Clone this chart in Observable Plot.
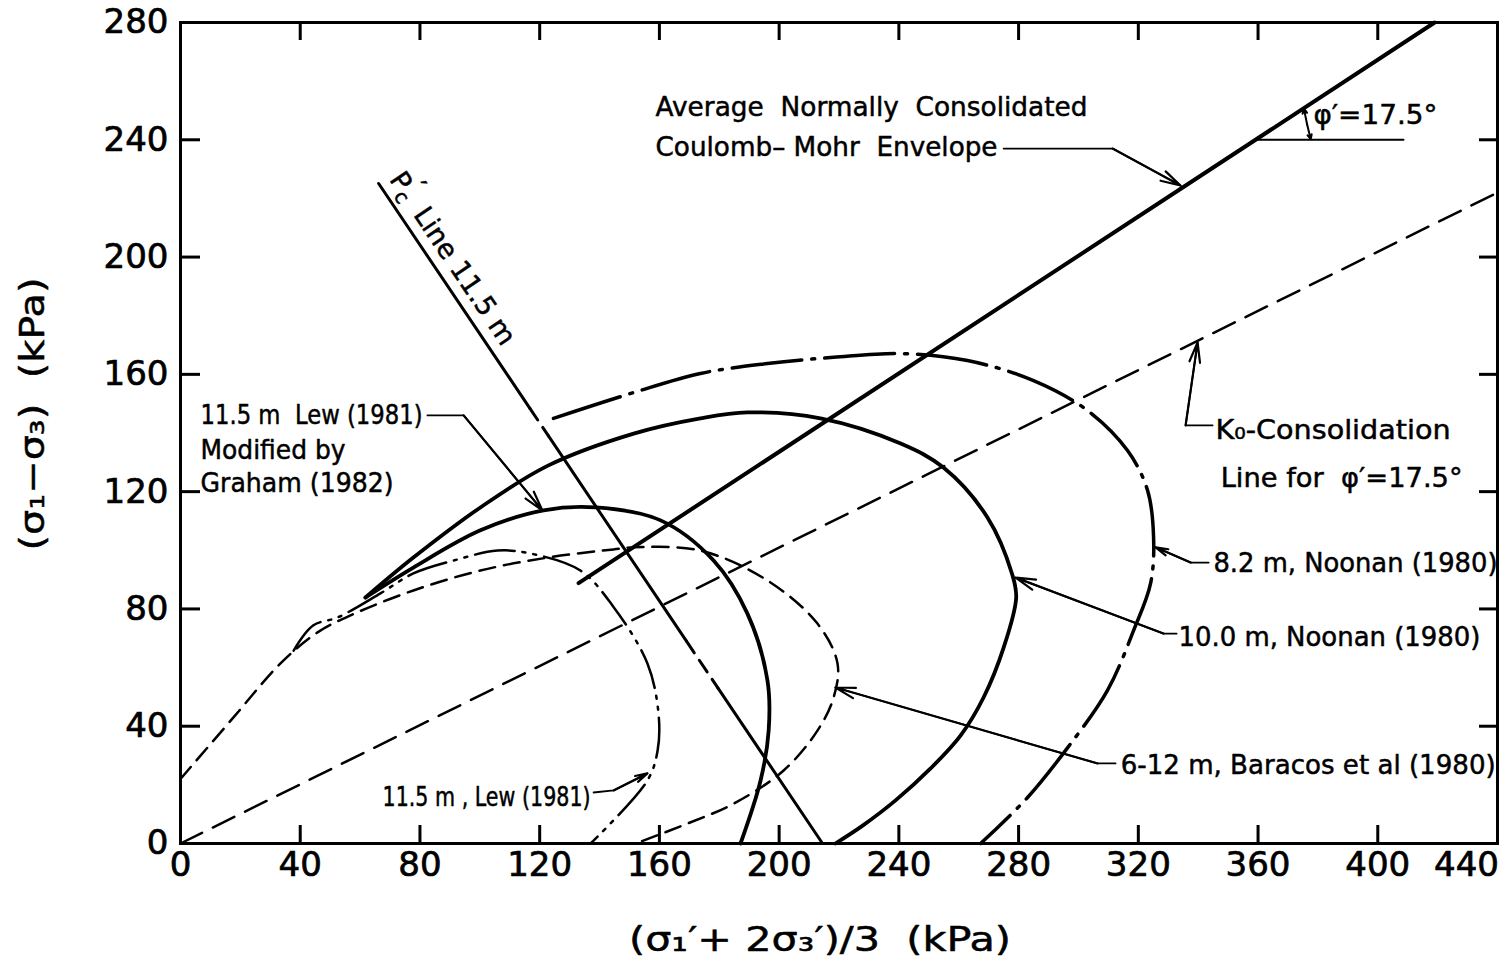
<!DOCTYPE html>
<html><head><meta charset="utf-8">
<script src="https://cdn.jsdelivr.net/npm/d3@7"></script>
<script src="https://cdn.jsdelivr.net/npm/@observablehq/plot@0.6"></script>
<style>
body{margin:0;background:#fff} svg{display:block}
g[aria-label="x-axis tick label"] text, g[aria-label="y-axis tick label"] text {stroke:#000; stroke-width:0.7px;}
</style>
</head><body><div id="chart"></div>
<script>
// ---------- data ----------
const xTicks = [0,40,80,120,160,200,240,280,320,360,400,440];
const yTicks = [0,40,80,120,160,200,240,280];

// Average normally consolidated Coulomb–Mohr envelope, phi' = 17.5°
const envelope = [{x:133,y:88.8},{x:419,y:280}];
// K0-consolidation line
const k0Line = [{x:0,y:0},{x:440,y:222}];
// p'c line 11.5 m (end points) and the y-ranges drawn dashed
const pcLineEnds = [{x:66.2,y:225.1},{x:214.5,y:0}];
const pcDashedRanges = [[148.4,139],[69,53]];

// 10.0 m, Noonan (1980) – thick solid
const noonan10 = [
  {x:61.8,y:83.9},{x:77.8,y:97.5},{x:100.2,y:114.6},{x:122.6,y:128.8},{x:151.4,y:139.8},
  {x:173.7,y:145.0},{x:189.4,y:147.0},{x:213.8,y:145.0},{x:240.6,y:136.4},{x:254.9,y:128.2},
  {x:269.6,y:111.2},{x:277.8,y:92.0},{x:279.2,y:84.0},{x:275.0,y:66.8},{x:268.3,y:49.8},
  {x:260.6,y:36.8},{x:250.6,y:25.6},{x:238.9,y:14.7},{x:227.9,y:6.1},{x:218.8,y:0}
];
// 11.5 m Lew (1981) modified by Graham (1982) – thick solid
const lewModified = [
  {x:61.8,y:83.9},{x:77.8,y:94.1},{x:100.2,y:106.8},{x:121.3,y:113.6},{x:138.7,y:114.6},
  {x:160.4,y:110.2},{x:178.1,y:96.5},{x:189.4,y:78.4},{x:196.1,y:55.6},{x:196.5,y:38.5},
  {x:193.8,y:21.5},{x:187.1,y:0}
];
// 11.5 m, Lew (1981) – dash-dot-dot
const lew = [
  {x:37.8,y:65.8},{x:44.4,y:74.4},{x:52.5,y:77.1},{x:66.8,y:85.3},{x:77.8,y:92.1},
  {x:91.2,y:96.5},{x:105.9,y:99.9},{x:116.9,y:98.9},{x:133.6,y:93.1},{x:144.3,y:81.2},
  {x:156.0,y:61.4},{x:159.7,y:44.3},{x:159.4,y:31.7},{x:156.0,y:21.5},{x:137.0,y:0}
];
// 6-12 m, Baracos et al (1980) – dashed
const baracos = [
  {x:0,y:22},{x:17.7,y:43.0},{x:33.4,y:61.4},{x:45.8,y:72.0},{x:56.8,y:77.8},{x:77.8,y:86.3},
  {x:100.2,y:93.1},{x:122.6,y:97.5},{x:144.7,y:100.3},{x:151.4,y:101.0},{x:173.7,y:99.9},
  {x:196.1,y:89.7},{x:212.8,y:75.0},{x:219.5,y:61.4},{x:218.2,y:49.8},{x:212.8,y:38.5},
  {x:201.5,y:24.9},{x:184.8,y:13.6},{x:169.4,y:6.8},{x:152.0,y:0}
];
// 8.2 m, Noonan (1980) – dash-dot
const noonan82 = [
  {x:124.6,y:145.0},{x:151.4,y:153.8},{x:173.7,y:160.3},{x:196.1,y:163.7},{x:218.2,y:165.8},
  {x:240.6,y:167.1},{x:262.9,y:164.7},{x:285.0,y:157.9},{x:303.0,y:147.7},{x:316.4,y:134.0},
  {x:323.1,y:120.4},{x:325.1,y:104.4},{x:324.1,y:88.7},{x:318.4,y:72.6},{x:309.7,y:52.2},
  {x:296.4,y:32.7},{x:283.0,y:15.7},{x:267.3,y:0}
];

// annotation texts
const xLabel = "(σ₁′+ 2σ₃′)/3  (kPa)";
const yLabel = "(σ₁−σ₃)  (kPa)";
const pcLabel = "Pc' Line 11.5 m";
const notes = [
  {text:"Average  Normally  Consolidated", x:158.7, y:251.0},
  {text:"Coulomb– Mohr  Envelope", x:158.7, y:237.4},
  {text:"φ′=17.5°", x:378.5, y:248.3},
  {text:"K₀-Consolidation", x:345.8, y:140.9},
  {text:"Line for  φ′=17.5°", x:347.5, y:124.5},
  {text:"8.2 m, Noonan (1980)", x:345.1, y:95.5},
  {text:"10.0 m, Noonan (1980)", x:333.4, y:70.3},
  {text:"6-12 m, Baracos et al (1980)", x:314.1, y:26.6},
  {text:"11.5 m , Lew (1981)", x:67.5, y:15.7},
  {text:"11.5 m  Lew (1981)", x:6.7, y:146.0},
  {text:"Modified by", x:6.7, y:134.0},
  {text:"Graham (1982)", x:6.7, y:122.8}
];
// leader lines: points from the text to the arrow tip
const leaders = [
  [{x:275.0,y:237.0},{x:311.4,y:237.0},{x:334.1,y:224.4}],   // envelope
  [{x:344.8,y:142.6},{x:335.8,y:142.6},{x:339.8,y:170.9}],   // K0
  [{x:343.5,y:95.8},{x:337.5,y:95.8},{x:325.8,y:101.0}],     // 8.2 m
  [{x:332.8,y:71.6},{x:328.4,y:71.6},{x:279.0,y:90.7}],      // 10.0 m
  [{x:312.4,y:27.3},{x:306.4,y:27.3},{x:218.8,y:53.2}],      // Baracos
  [{x:138.0,y:17.4},{x:144.7,y:18.1},{x:156.0,y:23.9}],      // Lew
  [{x:82.5,y:146.0},{x:94.6,y:146.0},{x:120.9,y:113.6}]      // Lew modified
];
const phiRef = [{x:359.3,y:240},{x:408.6,y:240}];
const phiArc = [{x1:376.4,y1:245.2,x2:375.3,y2:250.7},{x1:376.4,y1:245.2,x2:377.6,y2:240.2}];

// ---------- layout (text widths in pixels, as in the reference) ----------
const textWidths = {
  "Average  Normally  Consolidated":432, "Coulomb– Mohr  Envelope":342, "φ′=17.5°":124,
  "K₀-Consolidation":235, "Line for  φ′=17.5°":242, "8.2 m, Noonan (1980)":284,
  "10.0 m, Noonan (1980)":302, "6-12 m, Baracos et al (1980)":375, "11.5 m , Lew (1981)":208,
  "11.5 m  Lew (1981)":222, "Modified by":145, "Graham (1982)":193,
  [xLabel]:382, [yLabel]:273
};

// ---------- derived structures ----------
const pcX = y => pcLineEnds[1].x + (pcLineEnds[0].x - pcLineEnds[1].x) * (y - pcLineEnds[1].y) / (pcLineEnds[0].y - pcLineEnds[1].y);
const breaks = [pcLineEnds[0].y, ...pcDashedRanges.flat(), pcLineEnds[1].y];
const pcSolid = [], pcDashed = [];
for (let i = 0; i < breaks.length - 1; i++) {
  const seg = [{x:pcX(breaks[i]),y:breaks[i],s:i},{x:pcX(breaks[i+1]),y:breaks[i+1],s:i}];
  (i % 2 === 0 ? pcSolid : pcDashed).push(...seg);
}
const leaderPts = leaders.flatMap((l,i) => l.map(p => ({...p, k:i})));
const leaderHeads = leaders.map(l => ({x1:l[l.length-2].x, y1:l[l.length-2].y, x2:l[l.length-1].x, y2:l[l.length-1].y}));

const font = "DejaVu Sans";
const txt = {fontSize:27, textAnchor:"start", fill:"black", stroke:"black", strokeWidth:0.5};
const W = 1511, H = 970, mL = 180, mR = 14, mT = 22, mB = 127;
const fw = W - mL - mR, fh = H - mT - mB;
const smooth = "catmull-rom";

const chart = Plot.plot({
  width:W, height:H,
  marginLeft:mL, marginRight:mR, marginTop:mT, marginBottom:mB,
  x:{domain:[0,440]}, y:{domain:[0,280]},
  style:{fontFamily:font, background:"white", color:"black"},
  marks:[
    // inward ticks on all four sides
    Plot.tickX(xTicks, {x:d=>d, insetTop:fh-18, strokeWidth:3}),
    Plot.tickX(xTicks, {x:d=>d, insetBottom:fh-18, strokeWidth:3}),
    Plot.tickY(yTicks, {y:d=>d, insetRight:fw-20, strokeWidth:3}),
    Plot.tickY(yTicks, {y:d=>d, insetLeft:fw-18, strokeWidth:3}),
    Plot.axisX(xTicks.slice(0,-1), {anchor:"bottom", tickSize:0, tickPadding:8, fontSize:34, label:null}),
    Plot.axisX(xTicks.slice(-1), {anchor:"bottom", tickSize:0, tickPadding:8, fontSize:34, label:null, dx:-31}),
    Plot.axisY(yTicks, {anchor:"left", tickSize:0, tickPadding:12, fontSize:34, label:null}),
    Plot.frame({strokeWidth:3}),
    // lines
    Plot.line(k0Line, {x:"x", y:"y", strokeWidth:2.5, strokeDasharray:"24,12"}),
    Plot.line(envelope, {x:"x", y:"y", strokeWidth:4}),
    Plot.line(pcSolid, {x:"x", y:"y", z:"s", strokeWidth:3}),
    Plot.line(pcDashed, {x:"x", y:"y", z:"s", strokeWidth:3, strokeDasharray:"14,9"}),
    Plot.line(noonan10, {x:"x", y:"y", curve:smooth, strokeWidth:3.8}),
    Plot.line(lewModified, {x:"x", y:"y", curve:smooth, strokeWidth:3.8}),
    Plot.line(lew, {x:"x", y:"y", curve:smooth, strokeWidth:2.5, strokeDasharray:"40,8,3,8,3,8"}),
    Plot.line(baracos, {x:"x", y:"y", curve:smooth, strokeWidth:2.5, strokeDasharray:"16,9"}),
    Plot.line(noonan82, {x:"x", y:"y", curve:smooth, strokeWidth:3.5, strokeDasharray:"70,10,3,10"}),
    // annotations
    Plot.line(phiRef, {x:"x", y:"y", strokeWidth:2}),
    Plot.arrow(phiArc, {x1:"x1", y1:"y1", x2:"x2", y2:"y2", strokeWidth:2, headLength:8, headAngle:50}),
    Plot.line(leaderPts, {x:"x", y:"y", z:"k", strokeWidth:1.8}),
    Plot.arrow(leaderHeads, {x1:"x1", y1:"y1", x2:"x2", y2:"y2", strokeWidth:2.2, headLength:14, headAngle:30}),
    Plot.text(notes, {x:"x", y:"y", text:"text", ...txt}),
    Plot.text([pcLabel], {x:[90.9], y:[199.5], text:d=>d, rotate:56, fontSize:27, fill:"black", stroke:"black", strokeWidth:0.5}),
    Plot.text([xLabel], {frameAnchor:"bottom", textAnchor:"middle", lineAnchor:"middle", dx:-19, dy:97, fontSize:34, fill:"black", stroke:"black", strokeWidth:0.5}),
    Plot.text([yLabel], {frameAnchor:"left", textAnchor:"middle", lineAnchor:"middle", dx:-147, dy:-19, rotate:-90, fontSize:34, fill:"black", stroke:"black", strokeWidth:0.5})
  ]
});
document.getElementById("chart").appendChild(chart);

// match text widths of the reference lettering
d3.select(chart).selectAll("text").each(function(){
  const w = textWidths[this.textContent];
  if (w) d3.select(this).attr("textLength", w).attr("lengthAdjust", "spacingAndGlyphs");
});
// subscript c and prime for the p'c label
d3.select(chart).selectAll("text").filter(function(){ return this.textContent === pcLabel; }).each(function(){
  const t = d3.select(this); t.text("");
  t.append("tspan").text("P");
  t.append("tspan").attr("font-size","20").attr("dy","6").text("c");
  t.append("tspan").attr("dy","-16").attr("dx","-8").text("′");
  t.append("tspan").attr("dy","10").text("  Line 11.5 m");
});
</script></body></html>
